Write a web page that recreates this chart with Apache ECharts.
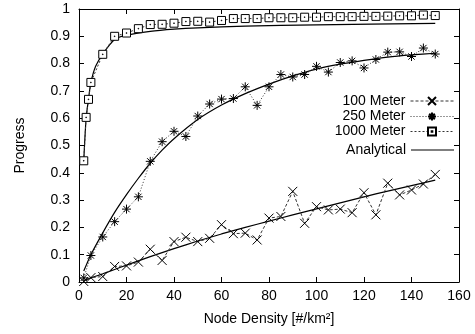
<!DOCTYPE html>
<html><head><meta charset="utf-8">
<script src="https://cdn.jsdelivr.net/npm/echarts@6/dist/echarts.min.js"></script>
<style>html,body{margin:0;padding:0;background:#fff}#c{width:475px;height:334px}</style>
</head><body><div id="c"></div>
<script>
const xTicks = [0,20,40,60,80,100,120,140,160];
const yTicks = [0,0.1,0.2,0.3,0.4,0.5,0.6,0.7,0.8,0.9,1];

const x100 = [2,5,10,15,20,25,30,35,40,45,50,55,60,65,70,75,80,85,90,95,100,105,110,115,120,125,130,135,140,145,150];
const y100 = [0.002,0.016,0.02,0.057,0.059,0.073,0.12,0.079,0.148,0.164,0.148,0.16,0.21,0.177,0.179,0.154,0.234,0.24,0.332,0.215,0.276,0.264,0.267,0.254,0.327,0.246,0.362,0.319,0.337,0.359,0.394];

const x250 = [2,5,10,15,20,25,30,35,40,45,50,55,60,65,70,75,80,85,90,95,100,105,110,115,120,125,130,135,140,145,150];
const y250 = [0.015,0.097,0.165,0.221,0.267,0.312,0.442,0.514,0.552,0.533,0.608,0.652,0.67,0.672,0.715,0.647,0.715,0.76,0.751,0.76,0.79,0.769,0.804,0.81,0.784,0.815,0.842,0.843,0.826,0.857,0.835];

const x1000 = [2,3,4,5,10,15,20,25,30,35,40,45,50,55,60,65,70,75,80,85,90,95,100,105,110,115,120,125,130,135,140,145,150];
const y1000 = [0.444,0.603,0.669,0.731,0.834,0.9,0.912,0.928,0.943,0.944,0.948,0.954,0.955,0.952,0.958,0.965,0.965,0.965,0.968,0.968,0.968,0.97,0.97,0.972,0.972,0.972,0.973,0.973,0.974,0.975,0.975,0.978,0.976];

const xA100 = [2,5,10,15,20,30,40,50,60,70,80,90,100,110,120,130,140,150];
const yA100 = [0.005,0.015,0.03,0.046,0.062,0.093,0.122,0.15,0.176,0.2,0.223,0.246,0.268,0.29,0.312,0.333,0.353,0.373];

const xA250 = [2,5,10,15,20,25,30,35,40,50,60,70,80,90,100,110,120,130,140,150];
const yA250 = [0.04,0.1,0.18,0.255,0.32,0.38,0.435,0.483,0.525,0.595,0.648,0.69,0.725,0.755,0.78,0.798,0.812,0.824,0.832,0.838];

const xA1000 = [2,3,4,5,7,10,15,20,30,40,50,70,100,150];
const yA1000 = [0.444,0.6,0.67,0.73,0.79,0.835,0.888,0.904,0.918,0.926,0.931,0.937,0.942,0.947];

const names = ['100 Meter','250 Meter','1000 Meter','Analytical'];

function zip(xs, ys){ return xs.map((x,i)=>[x, ys[i]]); }

const FONT = 'Liberation Sans';
const crossSym = 'path://M0,0L10,10M10,0L0,10';
const starSym = 'path://M5,0L5,10M0,5L10,5M1.5,1.5L8.5,8.5M8.5,1.5L1.5,8.5';
const boxSym = 'path://M0,0L10,0L10,10L0,10Z M4.6,4.6L5.4,4.6L5.4,5.4L4.6,5.4Z';

const chart = echarts.init(document.getElementById('c'), null, {renderer:'canvas'});
const axisCommon = {
  axisLine:{show:true, onZero:false, lineStyle:{color:'#000', width:1}},
  axisTick:{show:true, inside:true, length:5, lineStyle:{color:'#000'}},
  splitLine:{show:false}
};
function legendAt(item, top, h){
  return {
    data:[item], right:16, top:top, orient:'vertical', align:'right',
    itemWidth:43, itemHeight:h,
    lineStyle:{width:1},
    textStyle:{fontFamily:FONT, fontSize:14, color:'#000'},
    selectedMode:false
  };
}
const option = {
  animation:false,
  backgroundColor:'#fff',
  grid:{left:79, right:16, top:9, bottom:52, containLabel:false},
  legend:[
    legendAt(names[0], 89, 10),
    legendAt(names[1], 104.5, 10),
    legendAt(names[2], 119.5, 10),
    legendAt({name:names[3], icon:'rect'}, 138, 1.2)
  ],
  xAxis:[
    Object.assign({type:'value', min:xTicks[0], max:xTicks[xTicks.length-1], interval:20, position:'bottom',
      name:'Node Density [#/km²]', nameLocation:'middle', nameGap:30,
      nameTextStyle:{fontFamily:FONT, fontSize:14, color:'#000'},
      axisLabel:{fontFamily:FONT, fontSize:14, color:'#000', margin:7}}, axisCommon),
    Object.assign({type:'value', min:xTicks[0], max:xTicks[xTicks.length-1], interval:20, position:'top',
      axisLabel:{show:false}}, axisCommon)
  ],
  yAxis:[
    Object.assign({type:'value', min:yTicks[0], max:yTicks[yTicks.length-1], interval:0.1, position:'left',
      name:'Progress', nameLocation:'middle', nameGap:52, nameRotate:90,
      nameTextStyle:{fontFamily:FONT, fontSize:14, color:'#000'},
      axisLabel:{fontFamily:FONT, fontSize:14, color:'#000', margin:9}}, axisCommon),
    Object.assign({type:'value', min:yTicks[0], max:yTicks[yTicks.length-1], interval:0.1, position:'right',
      axisLabel:{show:false}}, axisCommon)
  ],
  series:[
    {name:names[0], type:'line', data:zip(x100,y100), symbol:crossSym, symbolSize:9, showAllSymbol:true,
      lineStyle:{color:'#333', width:1, type:[3,2]}, itemStyle:{color:'#000', borderColor:'#000', borderWidth:1}, z:3},
    {name:names[1], type:'line', data:zip(x250,y250), symbol:starSym, symbolSize:9, showAllSymbol:true,
      lineStyle:{color:'#333', width:1, type:[1,2]}, itemStyle:{color:'#000', borderColor:'#000', borderWidth:1}, z:3},
    {name:names[2], type:'line', data:zip(x1000,y1000), symbol:boxSym, symbolSize:8, showAllSymbol:true,
      lineStyle:{color:'#333', width:1, type:[2,2]}, itemStyle:{color:'#fff', borderColor:'#000', borderWidth:1}, z:4},
    {name:names[3], type:'line', data:zip(xA100,yA100), symbol:'none', smooth:0.25,
      lineStyle:{color:'#000', width:1.2}, itemStyle:{color:'#000'}, z:2},
    {name:names[3], type:'line', data:zip(xA250,yA250), symbol:'none', smooth:0.25,
      lineStyle:{color:'#000', width:1.2}, itemStyle:{color:'#000'}, z:2},
    {name:names[3], type:'line', data:zip(xA1000,yA1000), symbol:'none', smooth:0.25,
      lineStyle:{color:'#000', width:1.2}, itemStyle:{color:'#000'}, z:2}
  ]
};
chart.setOption(option);
</script>
</body></html>
